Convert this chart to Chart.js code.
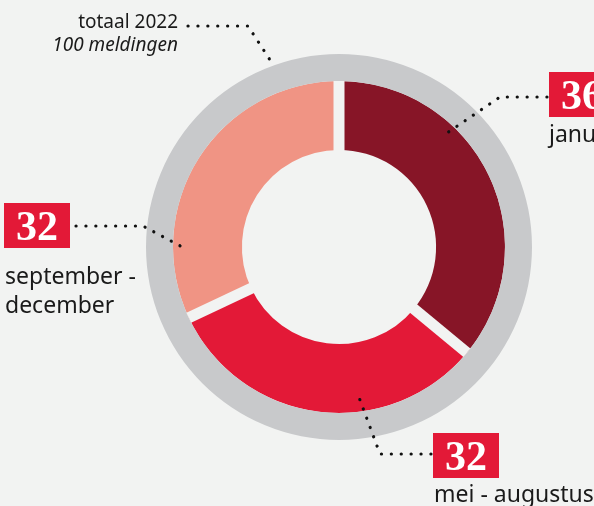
<!DOCTYPE html>
<html>
<head>
<meta charset="utf-8">
<script src="https://cdn.jsdelivr.net/npm/chart.js@4.4.1/dist/chart.umd.min.js"></script>
<style>
  html, body { margin: 0; padding: 0; background: #f2f3f2; }
  #donut { display: block; }
</style>
</head>
<body>
<canvas id="donut" width="594" height="506"></canvas>
<script>
// data
var periodes = ['januari - april', 'mei - augustus', 'september - december'];
var meldingen = [36, 32, 32];
var jaar = '2022';
var totaal = 100;

// kleuren
var bg = '#f2f3f2';
var grijs = '#c8c9cb';
var donkerrood = '#871527';
var rood = '#e31937';
var zalm = '#f09484';

// plek van de labels (box linksboven, tekst, stippellijn)
var labelPos = [
  { box: [549, 72], tekst: [549, 142], lijn: [[547, 97], [500, 97], [447, 133]] },
  { box: [433, 433], tekst: [434, 502], lijn: [[431, 454], [380, 454], [357, 392]] },
  { box: [4, 203], tekst: [5, 284], lijn: [[76, 226], [143, 226], [186, 249]], breek: true }
];

function stippel(ctx, pts) {
  ctx.save();
  ctx.strokeStyle = '#111';
  ctx.lineWidth = 3.2;
  ctx.lineCap = 'round';
  ctx.lineJoin = 'round';
  ctx.setLineDash([0.1, 9.8]);
  ctx.beginPath();
  ctx.moveTo(pts[0][0], pts[0][1]);
  for (var i = 1; i < pts.length; i++) ctx.lineTo(pts[i][0], pts[i][1]);
  ctx.stroke();
  ctx.restore();
}

var labels = {
  id: 'labels',
  afterDatasetsDraw: function(chart) {
    // witte (achtergrond) spleten tussen de segmenten
    var ctx = chart.ctx;
    var meta = chart.getDatasetMeta(1);
    ctx.save();
    ctx.strokeStyle = bg;
    ctx.lineWidth = 11;
    meta.data.forEach(function(arc) {
      var p = arc.getProps(['x', 'y', 'startAngle', 'innerRadius', 'outerRadius'], true);
      var c = Math.cos(p.startAngle), s = Math.sin(p.startAngle);
      ctx.beginPath();
      ctx.moveTo(p.x + c * (p.innerRadius - 2), p.y + s * (p.innerRadius - 2));
      ctx.lineTo(p.x + c * p.outerRadius, p.y + s * p.outerRadius);
      ctx.stroke();
    });
    ctx.restore();
  },
  afterDraw: function(chart) {
    var ctx = chart.ctx;
    ctx.save();

    // totaal
    ctx.fillStyle = '#1a1a1a';
    ctx.textAlign = 'right';
    ctx.textBaseline = 'alphabetic';
    ctx.font = '19px "Noto Sans"';
    ctx.fillText('totaal ' + jaar, 178, 28);
    ctx.font = 'italic 19px "Noto Sans"';
    ctx.fillText(totaal + ' meldingen', 178, 51);
    stippel(ctx, [[188, 26], [248, 26], [272, 63]]);

    for (var i = 0; i < meldingen.length; i++) {
      var l = labelPos[i];
      stippel(ctx, l.lijn);

      ctx.fillStyle = rood;
      ctx.fillRect(l.box[0], l.box[1], 66, 45);
      ctx.fillStyle = '#fff';
      ctx.textAlign = 'center';
      ctx.textBaseline = 'alphabetic';
      ctx.font = 'bold 42px "Liberation Serif"';
      ctx.fillText(String(meldingen[i]), l.box[0] + 33, l.box[1] + 37);

      ctx.fillStyle = '#1a1a1a';
      ctx.textAlign = 'left';
      ctx.font = '23px "Noto Sans"';
      var regels = [periodes[i]];
      if (l.breek) {
        var d = periodes[i].split(' - ');
        regels = [d[0] + ' -', d[1]];
      }
      regels.forEach(function(r, k) {
        ctx.fillText(r, l.tekst[0], l.tekst[1] + k * 29);
      });
    }
    ctx.restore();
  }
};

new Chart(document.getElementById('donut'), {
  type: 'doughnut',
  data: {
    labels: periodes,
    datasets: [
      { data: [totaal], backgroundColor: grijs, borderWidth: 0, weight: 27 },
      { data: meldingen, backgroundColor: [donkerrood, rood, zalm], borderWidth: 0, weight: 69 }
    ]
  },
  options: {
    responsive: false,
    animation: false,
    events: [],
    cutout: '50.3%',
    layout: { padding: { left: 146, top: 54, right: 62, bottom: 66 } },
    plugins: { legend: { display: false }, tooltip: { enabled: false } }
  },
  plugins: [labels]
});
</script>
</body>
</html>
